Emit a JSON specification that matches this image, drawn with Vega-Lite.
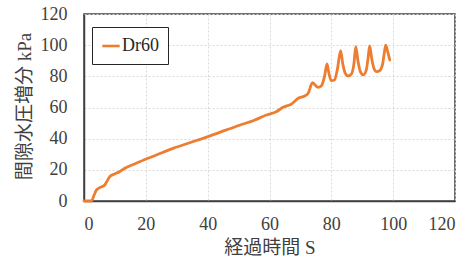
{
  "$schema": "https://vega.github.io/schema/vega-lite/v6.json",
  "width": 371,
  "height": 187,
  "autosize": "none",
  "padding": {"left": 84, "top": 14, "right": 21, "bottom": 59},
  "background": "white",
  "config": {
    "view": {"stroke": "#404040", "strokeWidth": 1.5},
    "font": "Liberation Serif, Times New Roman, serif"
  },
  "data": {
    "values": [
      {"t": 0, "p": 0, "s": "Dr60"},
      {"t": 2.4, "p": 0, "s": "Dr60"},
      {"t": 3.3, "p": 4, "s": "Dr60"},
      {"t": 4.0, "p": 7, "s": "Dr60"},
      {"t": 5.1, "p": 8.6, "s": "Dr60"},
      {"t": 6.7, "p": 10.3, "s": "Dr60"},
      {"t": 7.2, "p": 11.8, "s": "Dr60"},
      {"t": 8.3, "p": 15.6, "s": "Dr60"},
      {"t": 9.9, "p": 17.3, "s": "Dr60"},
      {"t": 11.5, "p": 18.8, "s": "Dr60"},
      {"t": 13.2, "p": 21, "s": "Dr60"},
      {"t": 16.9, "p": 24.2, "s": "Dr60"},
      {"t": 18, "p": 25.2, "s": "Dr60"},
      {"t": 23.4, "p": 29.5, "s": "Dr60"},
      {"t": 28.8, "p": 33.8, "s": "Dr60"},
      {"t": 34.2, "p": 37.4, "s": "Dr60"},
      {"t": 40.1, "p": 41.3, "s": "Dr60"},
      {"t": 46.1, "p": 45.6, "s": "Dr60"},
      {"t": 51.5, "p": 49.4, "s": "Dr60"},
      {"t": 54.7, "p": 51.5, "s": "Dr60"},
      {"t": 59, "p": 55.2, "s": "Dr60"},
      {"t": 62.2, "p": 57.3, "s": "Dr60"},
      {"t": 64.4, "p": 60.1, "s": "Dr60"},
      {"t": 67.1, "p": 62.2, "s": "Dr60"},
      {"t": 69.3, "p": 65.9, "s": "Dr60"},
      {"t": 71.4, "p": 67.4, "s": "Dr60"},
      {"t": 72.5, "p": 69.1, "s": "Dr60"},
      {"t": 73.9, "p": 75.9, "s": "Dr60"},
      {"t": 75.7, "p": 72.9, "s": "Dr60"},
      {"t": 76.8, "p": 74, "s": "Dr60"},
      {"t": 77.8, "p": 80, "s": "Dr60"},
      {"t": 78.6, "p": 87.9, "s": "Dr60"},
      {"t": 79.2, "p": 82, "s": "Dr60"},
      {"t": 80, "p": 77.2, "s": "Dr60"},
      {"t": 81, "p": 77.6, "s": "Dr60"},
      {"t": 82, "p": 85, "s": "Dr60"},
      {"t": 83, "p": 96.5, "s": "Dr60"},
      {"t": 83.7, "p": 88, "s": "Dr60"},
      {"t": 84.5, "p": 82, "s": "Dr60"},
      {"t": 85.4, "p": 80.2, "s": "Dr60"},
      {"t": 86.5, "p": 81.5, "s": "Dr60"},
      {"t": 87.3, "p": 88, "s": "Dr60"},
      {"t": 87.9, "p": 99, "s": "Dr60"},
      {"t": 88.6, "p": 90, "s": "Dr60"},
      {"t": 89.4, "p": 83, "s": "Dr60"},
      {"t": 90.3, "p": 80.9, "s": "Dr60"},
      {"t": 91.3, "p": 84, "s": "Dr60"},
      {"t": 91.9, "p": 92, "s": "Dr60"},
      {"t": 92.4, "p": 99.5, "s": "Dr60"},
      {"t": 93.1, "p": 91, "s": "Dr60"},
      {"t": 93.8, "p": 85, "s": "Dr60"},
      {"t": 94.6, "p": 83, "s": "Dr60"},
      {"t": 95.6, "p": 83.6, "s": "Dr60"},
      {"t": 96.6, "p": 88, "s": "Dr60"},
      {"t": 97.2, "p": 96, "s": "Dr60"},
      {"t": 97.6, "p": 100, "s": "Dr60"},
      {"t": 98.2, "p": 96, "s": "Dr60"},
      {"t": 98.9, "p": 90.5, "s": "Dr60"}
    ]
  },
  "mark": {"type": "line", "strokeWidth": 2.8, "strokeJoin": "round", "strokeCap": "round", "interpolate": "monotone"},
  "encoding": {
    "x": {
      "field": "t", "type": "quantitative",
      "scale": {"domain": [0, 120], "nice": false},
      "axis": {
        "title": "経過時間 S", "values": [0, 20, 40, 60, 80, 100, 120],
        "grid": true, "gridDash": [2, 2], "gridColor": "#d9d9d9", "gridWidth": 1,
        "ticks": false, "domain": true, "domainColor": "#404040", "domainWidth": 1.5,
        "labelFont": "Liberation Serif, Times New Roman, serif", "labelFontSize": 18, "labelColor": "#404040", "labelPadding": 14,
        "titleFont": "Liberation Serif, Noto Sans CJK JP", "titleFontSize": 19, "titleFontWeight": "normal", "titleColor": "#404040",
        "titleY": 46, "titleBaseline": "middle"
      }
    },
    "y": {
      "field": "p", "type": "quantitative",
      "scale": {"domain": [0, 120], "nice": false},
      "axis": {
        "title": "間隙水圧増分 kPa", "values": [0, 20, 40, 60, 80, 100, 120],
        "grid": true, "gridDash": [2, 2], "gridColor": "#d9d9d9", "gridWidth": 1,
        "ticks": false, "domain": true, "domainColor": "#404040", "domainWidth": 1.5,
        "labelFont": "Liberation Serif, Times New Roman, serif", "labelFontSize": 18, "labelColor": "#404040", "labelPadding": 17,
        "titleFont": "Liberation Serif, Noto Sans CJK JP", "titleFontSize": 19, "titleFontWeight": "normal", "titleColor": "#404040",
        "titleX": -60, "titleY": 92, "titleBaseline": "middle", "titleAngle": -90
      }
    },
    "color": {
      "field": "s", "type": "nominal",
      "scale": {"range": ["#ED7D31"]},
      "legend": {
        "title": null, "orient": "none", "legendX": 8, "legendY": 13,
        "symbolType": "stroke", "symbolSize": 300, "symbolStrokeWidth": 2.6,
        "labelFont": "Liberation Serif, Times New Roman, serif", "labelFontSize": 18, "labelColor": "#262626", "labelOffset": 1,
        "strokeColor": "#262626", "fillColor": "white", "padding": 9, "cornerRadius": 0
      }
    }
  }
}
